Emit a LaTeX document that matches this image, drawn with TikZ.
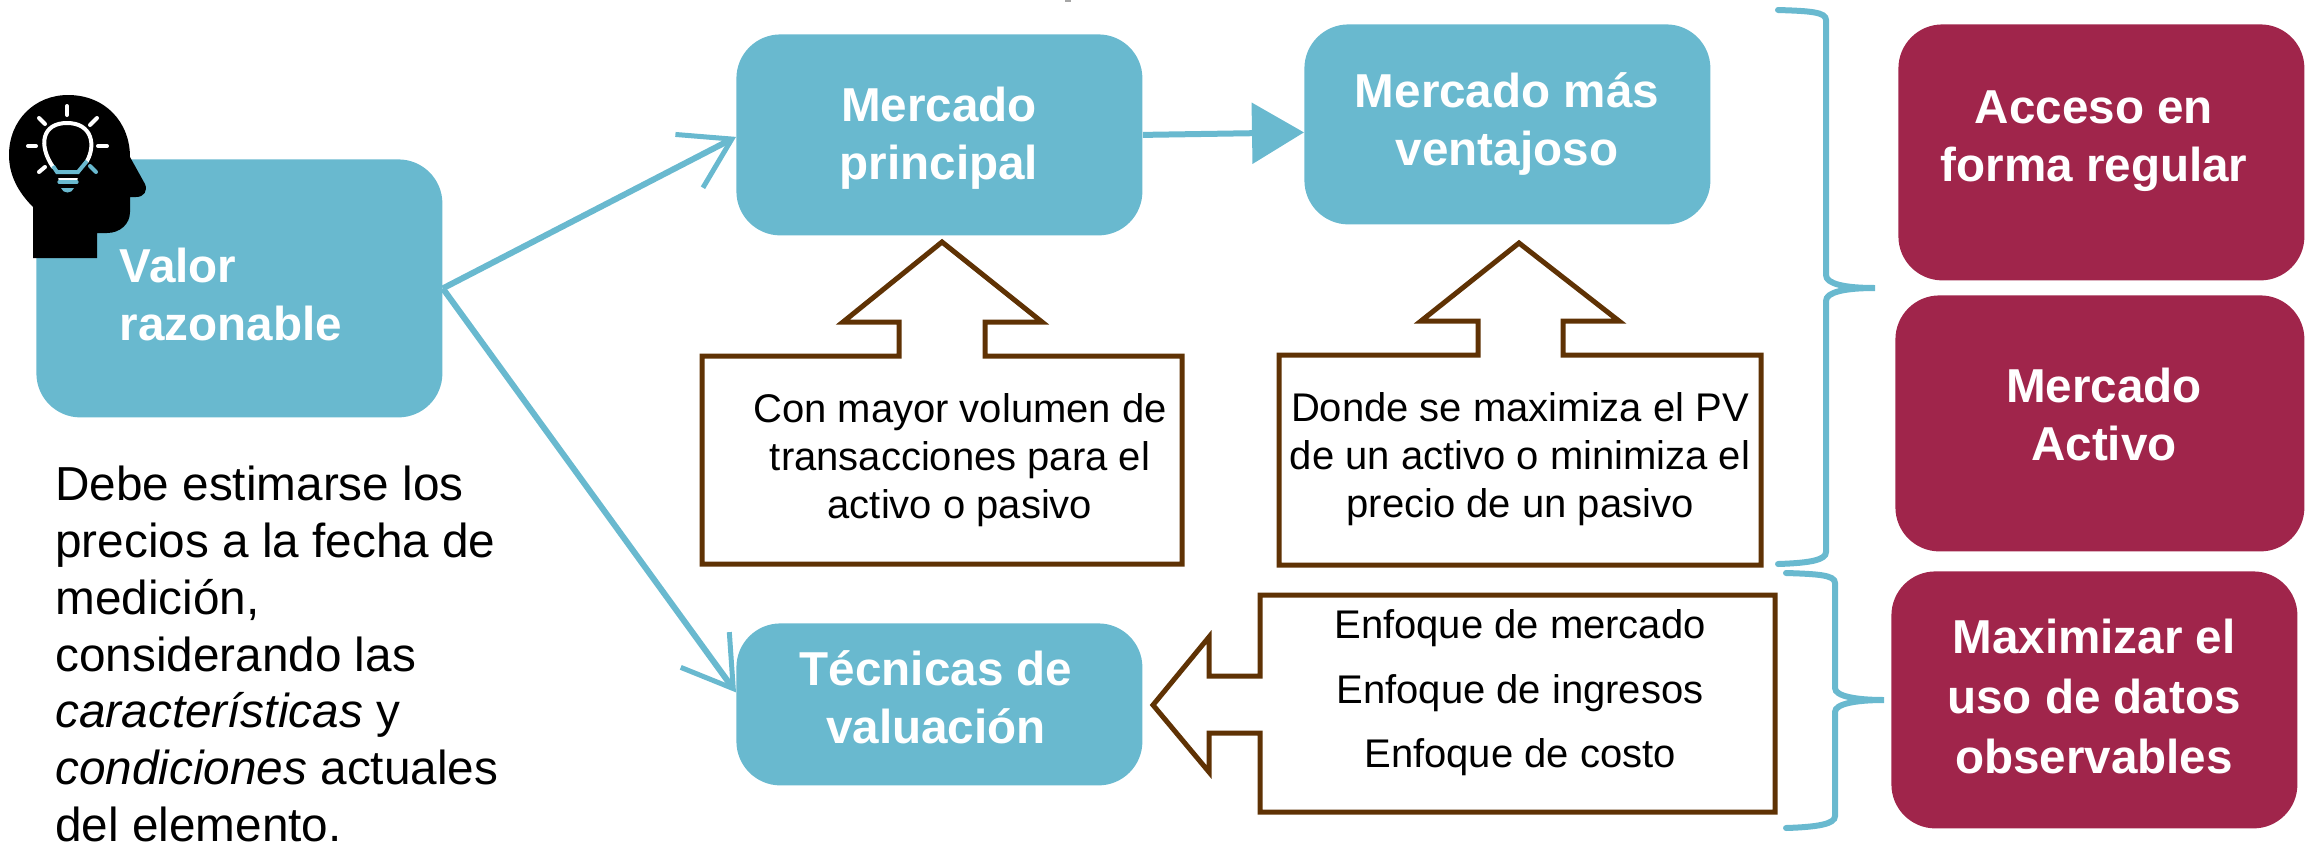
\documentclass[tikz,border=0pt]{standalone}
\usepackage{fontspec}
\setmainfont{Liberation Sans}
\usetikzlibrary{arrows.meta,positioning,calc}
\definecolor{tealbox}{RGB}{105,185,207}
\definecolor{redbox}{RGB}{160,37,75}
\definecolor{brownline}{RGB}{95,50,4}
\tikzset{
  boxbase/.style={inner sep=0pt,anchor=north west,rounded corners=22pt},
  tealnode/.style={boxbase,fill=tealbox},
  rednode/.style={boxbase,fill=redbox},
  boldlabel/.style={text=white,align=center,inner sep=0pt,font=\fontsize{23.8}{29}\selectfont\bfseries},
  bodylabel/.style={text=black,align=center,inner sep=0pt,font=\fontsize{20}{24}\selectfont},
  callout/.style={draw=brownline,line width=2.5pt,fill=white,miter limit=10},
  connector/.style={draw=tealbox,line width=3pt},
  bracket/.style={draw=tealbox,line width=3pt,line cap=round},
}
\begin{document}
\begin{tikzpicture}[x=0.5pt,y=-0.5pt]
\useasboundingbox (0,0) rectangle (2308,847);
% speck on the top edge
\fill[gray!70] (1065,0) rectangle (1071,2);
% teal boxes
\node[tealnode,minimum width=203pt,minimum height=129pt] (valor) at (36,159) {};
\node[tealnode,minimum width=203pt,minimum height=100.5pt] (mp) at (736,34) {};
\node[tealnode,minimum width=203pt,minimum height=100pt] (mm) at (1304,24) {};
\node[tealnode,minimum width=203pt,minimum height=81pt] (tec) at (736,623) {};
% red boxes
\node[rednode,minimum width=203pt,minimum height=128pt] (acc) at (1898,24) {};
\node[rednode,minimum width=204.5pt,minimum height=128pt] (act) at (1895,295) {};
\node[rednode,minimum width=203pt,minimum height=128.5pt] (max) at (1891,571) {};
% labels
\node[boldlabel,align=left] (valort) at (231,294) {Valor\\razonable};
\node[boldlabel] (mpt) at (939,138) {Mercado\\principal};
\node[boldlabel] (mmt) at (1507,124) {Mercado más\\ventajoso};
\node[boldlabel] (tect) at (936,697) {Técnicas de\\valuación};
\node[boldlabel] (acct) at (2094,141) {Acceso en\\forma regular};
\node[boldlabel] (actt) at (2104,414) {Mercado\\Activo};
\node[boldlabel,font=\fontsize{23.8}{30}\selectfont\bfseries] (maxt) at (2094,696) {Maximizar el\\uso de datos\\observables};
% connectors
\coordinate (mpin) at ($(mp.west)+(0,2)$);
\coordinate (tecin) at ($(tec.west)+(0,-12)$);
\coordinate (mpout) at ($(mp.east)+(0,0)$);
\coordinate (mmin) at ($(mm.west)+(0,8)$);
\draw[connector,-{Straight Barb[length=24,width=30,line width=2.5pt]}] (valor.east) -- (mpin);
\draw[connector,-{Straight Barb[length=24,width=30,line width=2.5pt]}] (valor.east) -- (tecin);
\draw[connector,-{Triangle[length=26,width=30]}] (mpout) -- (mmin);
% callouts
\draw[callout] (702,356) -- (899,356) -- (899,322) -- (843,322) -- (942,242) -- (1042,322) -- (985,322) -- (985,356) -- (1182,356) -- (1182,564) -- (702,564) -- cycle;
\draw[callout] (1279,355) -- (1478,355) -- (1478,321) -- (1421,321) -- (1519,243) -- (1619,321) -- (1563,321) -- (1563,355) -- (1761,355) -- (1761,565) -- (1279,565) -- cycle;
\draw[callout] (1260,595) -- (1775,595) -- (1775,812) -- (1260,812) -- (1260,733) -- (1209,733) -- (1209,772) -- (1153,705) -- (1209,637) -- (1209,676) -- (1260,676) -- cycle;
\node[bodylabel] (c1) at (960,460) {Con mayor volumen de\\transacciones para el\\activo o pasivo};
\node[bodylabel] (c2) at (1520,459) {Donde se maximiza el PV\\de un activo o minimiza el\\precio de un pasivo};
\node[bodylabel] (e1) at (1520,628) {Enfoque de mercado};
\node[bodylabel] (e2) at (1520,693) {Enfoque de ingresos};
\node[bodylabel] (e3) at (1520,757) {Enfoque de costo};
% left paragraph
\node[inner sep=0pt,anchor=north west,align=left,text=black,font=\fontsize{23.85}{28.35}\selectfont] (para) at (55,466) {Debe estimarse los\\precios a la fecha de\\medición,\\considerando las\\\textit{características} y\\\textit{condiciones} actuales\\del elemento.};
% brackets
\draw[bracket] (1778,10) .. controls (1810,11) and (1826,12) .. (1826,20) -- (1826,275) .. controls (1826,284) and (1845,288) .. (1875,288) .. controls (1845,288) and (1826,292) .. (1826,301) -- (1826,552) .. controls (1826,560) and (1810,563) .. (1778,564);
\draw[bracket] (1786,573) .. controls (1818,574) and (1835,575) .. (1835,583) -- (1835,688) .. controls (1835,696) and (1855,700) .. (1884,700) .. controls (1855,700) and (1835,704) .. (1835,712) -- (1835,816) .. controls (1835,824) and (1818,827) .. (1786,828);
% head icon
\fill[black] (33,258) -- (33,207) .. controls (18,192) and (9,175) .. (9,155) .. controls (9,120) and (35,95) .. (68,95) .. controls (105,95) and (130,122) .. (130,157) -- (145,184) .. controls (148,191) and (144,197) .. (136,197) -- (130,197) -- (130,212) .. controls (130,224) and (120,233) .. (107,233) -- (97,233) -- (97,258) -- cycle;
\draw[white,line width=2pt,line cap=round] (53,167) .. controls (38,145) and (42,123) .. (67,123) .. controls (92,123) and (96,145) .. (87,161);
\draw[tealbox,line width=2pt] (87,161) -- (78,172) -- (57,172) -- (53,166);
\draw[white,line width=2pt,line cap=round] (67,106) -- (67,115);
\draw[white,line width=2pt,line cap=round] (39,118) -- (45,124);
\draw[white,line width=2pt,line cap=round] (97,118) -- (90,125);
\draw[white,line width=2pt,line cap=round] (28,146) -- (36,146);
\draw[white,line width=2pt,line cap=round] (98,146) -- (107,146);
\draw[white,line width=2pt,line cap=round] (39,172) -- (45,167);
\draw[tealbox,line width=2pt,line cap=round] (90,166) -- (96,172);
\draw[white,line width=1pt,line cap=round] (59,179) -- (77,179);
\draw[tealbox,line width=1.6pt,line cap=round] (59,182) -- (77,182);
\fill[tealbox] (61,188) -- (74,188) .. controls (72,194) and (63,194) .. (61,188) -- cycle;
\end{tikzpicture}
\end{document}
